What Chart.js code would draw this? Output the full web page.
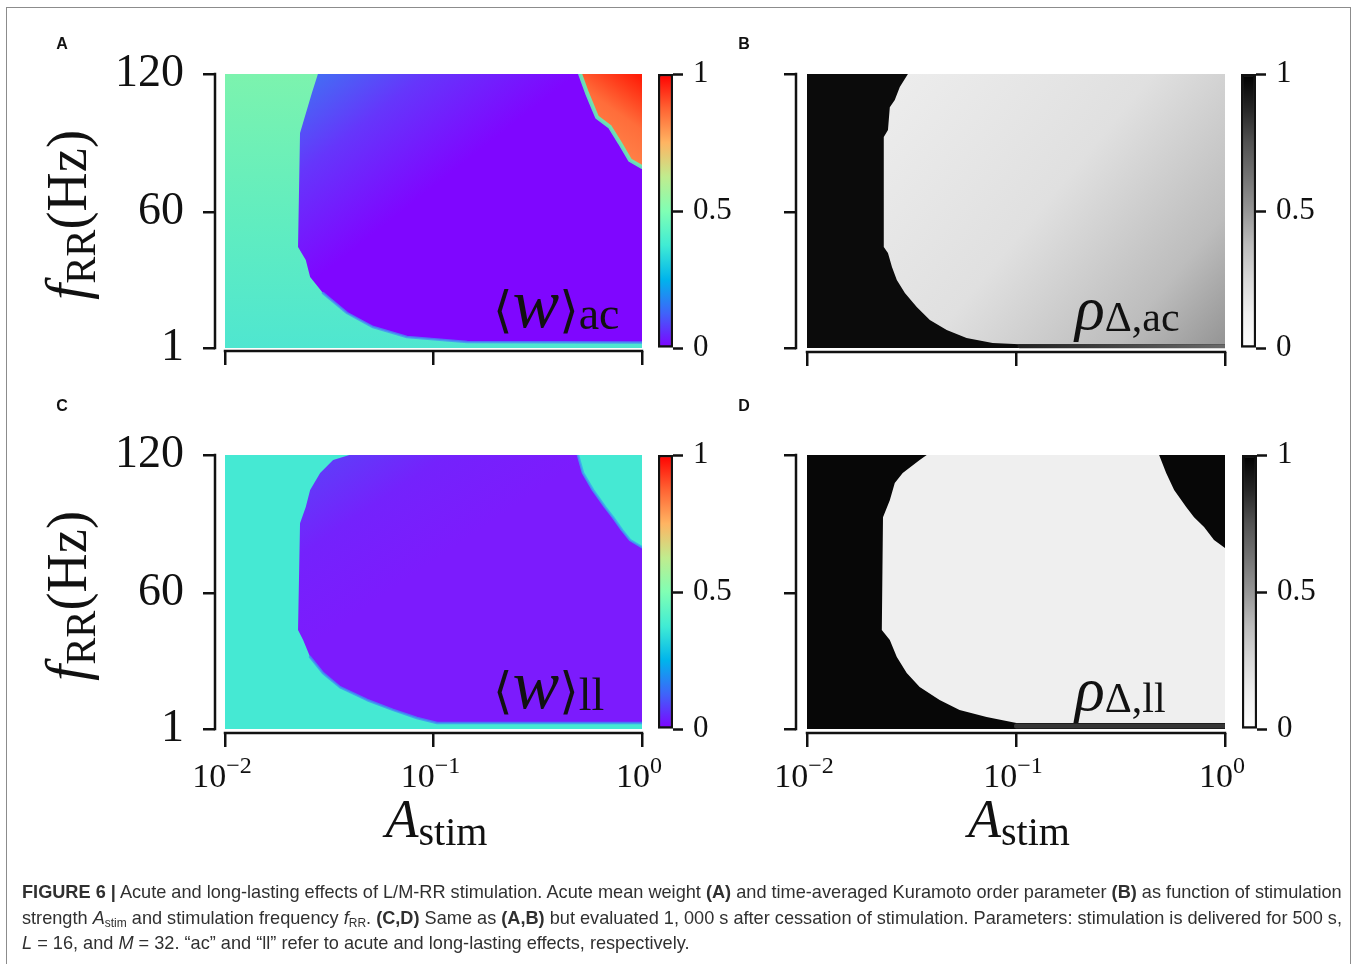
<!DOCTYPE html>
<html>
<head>
<meta charset="utf-8">
<title>Figure 6</title>
<script src="https://cdn.jsdelivr.net/npm/chart.js@4/dist/chart.umd.min.js"></script>
<style>
  html, body { margin: 0; padding: 0; background: #fff; }
  #page { position: relative; width: 1358px; height: 964px; overflow: hidden; }
  #page canvas { position: absolute; left: 0; top: 0; }
  #frame { position: absolute; left: 6px; top: 7px; width: 1345px; height: 1000px;
    border: 1.5px solid #8c8c8c; box-sizing: border-box; }
  #caption { position: absolute; left: 22px; top: 880px; color: #303030;
    font-family: "Liberation Sans", Arial, sans-serif; font-size: 16.4px; line-height: 25.5px; }
  #caption div { white-space: nowrap; width: max-content; }
  #caption sub { font-size: 0.66em; vertical-align: -0.28em; line-height: 0; }
</style>
</head>
<body>
<div id="page">
  <div id="frame"></div>
  <canvas id="mapA" width="1358" height="964"></canvas>
  <canvas id="mapB" width="1358" height="964"></canvas>
  <canvas id="mapC" width="1358" height="964"></canvas>
  <canvas id="mapD" width="1358" height="964"></canvas>
  <canvas id="barA" width="1358" height="964"></canvas>
  <canvas id="barB" width="1358" height="964"></canvas>
  <canvas id="barC" width="1358" height="964"></canvas>
  <canvas id="barD" width="1358" height="964"></canvas>
  <div id="caption">
    <div id="capLine1"><b>FIGURE 6 |</b> Acute and long-lasting effects of L/M-RR stimulation. Acute mean weight <b>(A)</b> and time-averaged Kuramoto order parameter <b>(B)</b> as function of stimulation</div>
    <div>strength <i>A</i><sub>stim</sub> and stimulation frequency <i>f</i><sub>RR</sub>. <b>(C,D)</b> Same as <b>(A,B)</b> but evaluated 1, 000 s after cessation of stimulation. Parameters: stimulation is delivered for 500 s,</div>
    <div><i>L</i> = 16, and <i>M</i> = 32. “ac” and “ll” refer to acute and long-lasting effects, respectively.</div>
  </div>
</div>
<script>
// axes
const aRange = [0.01, 1];
const fRange = [1, 120];
const aTicks = [0.01, 0.1, 1];
const aTickExp = ['−2', '−1', '0'];
const fTicks = [1, 60, 120];
const barRange = [0, 1];
const barTicks = [0, 0.5, 1];

// (A) acute weight: edge of the low (purple) region, then edge of the high (red) corner
const acWeightLowA = [0.0279, 0.0261, 0.0229, 0.0224, 0.0244, 0.0256, 0.0295, 0.0385, 0.0513, 0.0746, 0.145, 1];
const acWeightLowF = [120, 111.7, 94.4, 44.9, 39.2, 31.8, 24.9, 16.2, 10.1, 5.8, 3.6, 3.4];
const acWeightHighA = [0.505, 0.545, 0.608, 0.702, 0.784, 0.875, 1];
const acWeightHighF = [120, 111.7, 101.3, 97, 90, 82.6, 79.6];

// (B) acute order parameter: edge of the desynchronized (light) region, bottom strip
const acOrderEdgeA = [0.0304, 0.0278, 0.0263, 0.0249, 0.0244, 0.0233, 0.0233, 0.0244, 0.0255, 0.0269, 0.0294, 0.0335, 0.0387, 0.0466, 0.058, 0.0773, 0.104, 1];
const acOrderEdgeF = [120, 114.3, 108.7, 105.6, 95.7, 92.6, 44.9, 42.3, 36.2, 30.5, 24.9, 18.8, 13.2, 8.8, 5.3, 3.2, 2.6, 2.6];
const acOrderStripA = [0.104, 1];
const acOrderStripF = [1.8, 1.8];

// (C) long-lasting weight
const llWeightLowA = [0.0395, 0.033, 0.0286, 0.0256, 0.0244, 0.0229, 0.0224, 0.0237, 0.0256, 0.0295, 0.0356, 0.048, 0.064, 0.0833, 0.104, 1];
const llWeightLowF = [120, 117.8, 112.2, 104.8, 97.4, 90.4, 44, 39.6, 32.3, 25.3, 19.2, 13.6, 9.3, 5.8, 3.6, 3.6];
const llWeightHighA = [0.493, 0.521, 0.582, 0.665, 0.726, 0.802, 0.876, 1];
const llWeightHighF = [120, 112.2, 104.8, 97.4, 93, 87.4, 83.1, 80];

// (D) long-lasting order parameter
const llOrderEdgeA = [0.0374, 0.0346, 0.0287, 0.0263, 0.0249, 0.0231, 0.0228, 0.0249, 0.0269, 0.030, 0.0346, 0.0431, 0.0537, 0.0723, 0.1005, 1];
const llOrderEdgeF = [120, 117.8, 112.2, 107.8, 100.4, 93, 44, 39.6, 32.3, 25.3, 19.2, 13.6, 9.3, 6.2, 3.6, 3.6];
const llOrderHighA = [0.484, 0.523, 0.571, 0.652, 0.711, 0.794, 0.886, 1];
const llOrderHighF = [120, 112.2, 104.8, 97.4, 93, 88.7, 83.1, 79.6];
const llOrderStripA = [0.1005, 1];
const llOrderStripF = [2.3, 2.3];

// colormaps
const rainbow = [[0, '#8000ff'], [0.125, '#4062fa'], [0.25, '#00b4ec'], [0.375, '#40ecd4'], [0.5, '#80ffb4'],
  [0.625, '#c0ec8e'], [0.75, '#ffb462'], [0.875, '#ff6232'], [1, '#ff0000']];
const greys = [[0, '#ffffff'], [0.125, '#f0f0f0'], [0.25, '#d9d9d9'], [0.375, '#bdbdbd'], [0.5, '#969696'],
  [0.625, '#737373'], [0.75, '#525252'], [0.875, '#252525'], [1, '#000000']];

const W = 1358, H = 964, AXW = 100, AXH = 20, BAW = 90;
const INK = '#111';
const SERIF = '"Liberation Serif", "DejaVu Serif", serif';
Chart.defaults.font.family = SERIF;
Chart.defaults.color = INK;

const pts = (as, fs) => as.map((a, i) => ({ x: a, y: fs[i] }));
const box = [
  { x: aRange[0], y: fRange[0] }, { x: aRange[1], y: fRange[0] },
  { x: aRange[1], y: fRange[1] }, { x: aRange[0], y: fRange[1] },
];
const corner = { x: aRange[1], y: fRange[1] };

const linGrad = (chart, from, to, stops) => {
  const { ctx, scales: { x, y } } = chart;
  const g = ctx.createLinearGradient(
    x.getPixelForValue(from[0]), y.getPixelForValue(from[1]),
    x.getPixelForValue(to[0]), y.getPixelForValue(to[1]));
  stops.forEach(([o, c]) => g.addColorStop(o, c));
  return g;
};
const paint = (spec) =>
  typeof spec === 'string'
    ? spec
    : (c) => (c.chart.chartArea ? linGrad(c.chart, spec.from, spec.to, spec.stops) : null);

const region = (data, fill, order) => ({
  data, order, showLine: true, fill: 'shape', backgroundColor: paint(fill),
  borderColor: 'rgba(0,0,0,0)', borderWidth: 0, pointRadius: 0,
});
const edge = (data, color, width, order) => ({
  data, order, showLine: true, fill: false, borderColor: paint(color),
  borderWidth: width, pointRadius: 0, borderJoinStyle: 'round', borderCapStyle: 'round',
});

const runs = (ctx, parts, x, y, align) => {
  let w = 0;
  parts.forEach((r) => { ctx.font = r.font; r.w = ctx.measureText(r.t).width; w += r.w; });
  let cx = align === 'center' ? x - w / 2 : align === 'right' ? x - w : x;
  parts.forEach((r) => { ctx.font = r.font; ctx.fillText(r.t, cx, y + (r.dy || 0)); cx += r.w; });
};

const weightTag = (sub) => [
  { t: '⟨', font: '50px "DejaVu Sans"' },
  { t: 'w', font: `italic 70px ${SERIF}` },
  { t: '⟩', font: '50px "DejaVu Sans"' },
  { t: sub, font: `46px ${SERIF}`, dy: 2 },
];
const orderTag = (sub) => [
  { t: 'ρ', font: `italic 62px ${SERIF}` },
  { t: 'Δ,' + sub, font: `42px ${SERIF}`, dy: 2 },
];

const deco = (p) => ({
  id: 'deco',
  afterDraw(chart) {
    const { ctx, chartArea: ca, scales: { x, y } } = chart;
    ctx.save();
    ctx.strokeStyle = INK;
    ctx.lineWidth = 2.5;
    ctx.lineCap = 'square';
    ctx.beginPath();
    ctx.moveTo(ca.left, y.getPixelForValue(fRange[0]));
    ctx.lineTo(ca.left, y.getPixelForValue(fRange[1]));
    ctx.moveTo(x.getPixelForValue(aRange[0]), ca.bottom);
    ctx.lineTo(x.getPixelForValue(aRange[1]), ca.bottom);
    ctx.stroke();

    ctx.fillStyle = INK;
    ctx.textBaseline = 'alphabetic';
    ctx.textAlign = 'center';
    ctx.font = 'bold 16px "Liberation Sans"';
    ctx.fillText(p.letter, p.lx, p.ly);
    ctx.textAlign = 'left';

    runs(ctx, p.tag, x.getPixelForValue(aRange[0]) + 268, y.getPixelForValue(fRange[0]) + p.tagDy, 'left');

    if (p.xLabels) {
      aTicks.forEach((v, i) => {
        runs(ctx, [
          { t: '10', font: `34px ${SERIF}` },
          { t: aTickExp[i], font: `24px ${SERIF}`, dy: -14 },
        ], x.getPixelForValue(v) - 3, ca.bottom + 54, 'center');
      });
      runs(ctx, [
        { t: 'A', font: `italic 54px ${SERIF}` },
        { t: 'stim', font: `40px ${SERIF}`, dy: 8 },
      ], (p.left + p.right) / 2 + 3, ca.bottom + 104, 'center');
    }
    if (p.yTitle) {
      ctx.translate(ca.left - 129, (p.top + p.bottom) / 2 + 4);
      ctx.rotate(-Math.PI / 2);
      ctx.scale(0.97, 1);
      runs(ctx, [
        { t: 'f', font: `italic 60px ${SERIF}` },
        { t: 'RR', font: `42px ${SERIF}`, dy: 9 },
        { t: '(Hz)', font: `56px ${SERIF}` },
      ], 0, 0, 'center');
    }
    ctx.restore();
  },
});

const tickGrid = (len) => ({
  drawOnChartArea: false, drawTicks: true, tickLength: len,
  tickWidth: 2.5, tickColor: INK, color: INK, lineWidth: 2.5,
});

function mapChart(id, p, datasets) {
  const span = p.right - p.left;
  const xMin = Math.pow(10, Math.log10(aRange[0]) - ((p.left - p.spineX) / span) * Math.log10(aRange[1] / aRange[0]));
  const yMin = fRange[0] - ((p.spineY - p.bottom) / (p.bottom - p.top)) * (fRange[1] - fRange[0]);
  return new Chart(document.getElementById(id), {
    type: 'scatter',
    data: { datasets },
    options: {
      responsive: false, animation: false, events: [],
      layout: { padding: { left: p.spineX - AXW, right: W - p.right, top: p.top, bottom: H - p.spineY - AXH } },
      plugins: { legend: { display: false }, tooltip: { enabled: false } },
      scales: {
        x: {
          type: 'logarithmic', min: xMin, max: aRange[1],
          afterBuildTicks: (s) => { s.ticks = aTicks.map((v) => ({ value: v })); },
          afterFit: (s) => { s.height = AXH; },
          ticks: { display: false },
          grid: tickGrid(14),
          border: { display: false },
        },
        y: {
          type: 'linear', min: yMin, max: fRange[1],
          afterBuildTicks: (s) => { s.ticks = fTicks.map((v) => ({ value: v })); },
          afterFit: (s) => { s.width = AXW; },
          ticks: { display: p.yTicks, font: { family: SERIF, size: 46 }, color: INK, padding: 19, callback: (v) => String(v) },
          grid: tickGrid(12),
          border: { display: false },
        },
      },
    },
    plugins: [deco(p)],
  });
}

function barChart(id, p, stops) {
  return new Chart(document.getElementById(id), {
    type: 'bar',
    data: {
      labels: [''],
      datasets: [{
        data: [barRange],
        backgroundColor: (c) => {
          const ca = c.chart.chartArea;
          if (!ca) return null;
          const g = c.chart.ctx.createLinearGradient(0, ca.bottom, 0, ca.top);
          stops.forEach(([o, col]) => g.addColorStop(o, col));
          return g;
        },
        borderColor: INK, borderWidth: 2.5, borderSkipped: false,
        barPercentage: 1, categoryPercentage: 1,
      }],
    },
    options: {
      responsive: false, animation: false, events: [],
      layout: { padding: { left: p.barL, right: W - p.barR - BAW, top: p.top, bottom: H - p.bottom } },
      plugins: { legend: { display: false }, tooltip: { enabled: false } },
      scales: {
        x: { display: false },
        y: {
          position: 'right', min: barRange[0], max: barRange[1],
          afterBuildTicks: (s) => { s.ticks = barTicks.map((v) => ({ value: v })); },
          afterFit: (s) => { s.width = BAW; },
          ticks: { font: { family: SERIF, size: 31 }, color: INK, padding: 10, callback: (v) => String(v) },
          grid: { drawOnChartArea: false, drawTicks: true, tickLength: 10, tickWidth: 2.5, tickColor: INK },
          border: { display: false },
        },
      },
    },
  });
}

const panelA = { letter: 'A', lx: 62, ly: 49, spineX: 215, left: 225, right: 642, top: 74, bottom: 348, spineY: 351,
  barL: 658, barR: 673, yTicks: true, xLabels: false, yTitle: true, tag: weightTag('ac'), tagDy: -21 };
const panelB = { letter: 'B', lx: 744, ly: 49, spineX: 796, left: 807, right: 1225, top: 74, bottom: 348, spineY: 352,
  barL: 1241, barR: 1256, yTicks: false, xLabels: false, yTitle: false, tag: orderTag('ac'), tagDy: -19 };
const panelC = { letter: 'C', lx: 62, ly: 411, spineX: 215, left: 225, right: 642, top: 455, bottom: 729, spineY: 733,
  barL: 658, barR: 673, yTicks: true, xLabels: true, yTitle: true, tag: weightTag('ll'), tagDy: -21 };
const panelD = { letter: 'D', lx: 744, ly: 411, spineX: 796, left: 807, right: 1225, top: 455, bottom: 729, spineY: 733,
  barL: 1242, barR: 1257, yTicks: false, xLabels: true, yTitle: false, tag: orderTag('ll'), tagDy: -19 };

mapChart('mapA', panelA, [
  region(box, { from: [0.01, 120], to: [0.01, 1], stops: [[0, '#7cf3ae'], [0.55, '#60edc0'], [1, '#4fe6d0']] }, 9),
  region([...pts(acWeightLowA, acWeightLowF), corner],
    { from: [0.022, 118], to: [0.07, 60], stops: [[0, '#3f74f3'], [0.45, '#6536fb'], [1, '#7f06ff']] }, 8),
  edge(pts(acWeightLowA, acWeightLowF).slice(6), 'rgba(70,140,245,0.8)', 2.5, 7),
  region([...pts(acWeightHighA, acWeightHighF), corner],
    { from: [0.55, 85], to: [1, 118], stops: [[0, '#ff8d50'], [0.55, '#ff6d3a'], [1, '#ff1e08']] }, 6),
  edge(pts(acWeightHighA, acWeightHighF), 'rgba(98,239,184,0.9)', 4, 5),
]);

mapChart('mapB', panelB, [
  region(box, '#0b0b0b', 9),
  region([...pts(acOrderEdgeA, acOrderEdgeF), corner],
    { from: [0.03, 118], to: [1, 3], stops: [[0, '#ececec'], [0.45, '#e0e0e0'], [0.8, '#bdbdbd'], [1, '#959595']] }, 8),
  edge(pts(acOrderStripA, acOrderStripF), { from: [0.1, 2], to: [1, 2], stops: [[0, '#202020'], [1, '#6a6a6a']] }, 4, 7),
]);

mapChart('mapC', panelC, [
  region(box, '#45e9d3', 9),
  region([...pts(llWeightLowA, llWeightLowF), corner],
    { from: [0.022, 118], to: [0.06, 60], stops: [[0, '#5a44f8'], [0.5, '#7422fc'], [1, '#7c1bfd']] }, 8),
  edge(pts(llWeightLowA, llWeightLowF).slice(8), 'rgba(63,142,244,0.8)', 2.5, 7),
  region([...pts(llWeightHighA, llWeightHighF), corner], '#45e9d3', 6),
  edge(pts(llWeightHighA, llWeightHighF), 'rgba(58,164,242,0.8)', 2.5, 5),
]);

mapChart('mapD', panelD, [
  region(box, '#070707', 9),
  region([...pts(llOrderEdgeA, llOrderEdgeF), corner], '#efefef', 8),
  region([...pts(llOrderHighA, llOrderHighF), corner], '#070707', 6),
  edge(pts(llOrderStripA, llOrderStripF), '#363636', 5, 5),
]);

barChart('barA', panelA, rainbow);
barChart('barB', panelB, greys);
barChart('barC', panelC, rainbow);
barChart('barD', panelD, greys);

// stretch caption lines to the printed width
const cap = document.getElementById('caption');
const w1 = document.getElementById('capLine1').getBoundingClientRect().width;
cap.style.fontSize = (16.4 * 1319 / w1).toFixed(2) + 'px';
</script>
</body>
</html>
